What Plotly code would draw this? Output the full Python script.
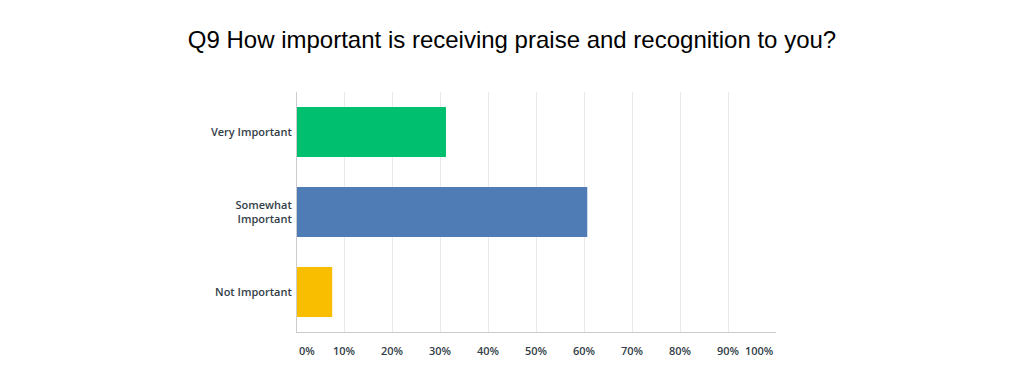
import plotly.graph_objects as go

categories = ["Very Important", "Somewhat<br>Important", "Not Important"]
values = [31.1, 60.6, 7.35]
colors = ["#00bf6f", "#507cb6", "#f9be00"]
tick_values = [0, 10, 20, 30, 40, 50, 60, 70, 80, 90, 100]
tick_labels = ["0%", "10%", "20%", "30%", "40%", "50%", "60%", "70%", "80%", "90%", "100%"]

label_font = dict(family="Open Sans, sans-serif", size=11, color="#333e48", weight=600)

fig = go.Figure(go.Bar(
    y=categories, x=values, orientation="h",
    marker=dict(color=colors, line=dict(width=0)),
    hoverinfo="skip",
))

annotations = []
for v, t in zip(tick_values, tick_labels):
    anchor = "left" if v == tick_values[0] else ("right" if v == tick_values[-1] else "center")
    annotations.append(dict(x=v, y=0, xref="x", yref="paper", text=t, showarrow=False,
                            xanchor=anchor, yanchor="middle", yshift=-18, font=label_font))

fig.update_layout(
    width=1024, height=385,
    margin=dict(l=297, r=248, t=92, b=53),
    paper_bgcolor="white", plot_bgcolor="white",
    title=dict(text="Q9 How important is receiving praise and recognition to you?",
               x=0.5, xanchor="center", xref="container", y=1 - 40 / 385, yref="container", yanchor="middle",
               font=dict(family="Liberation Sans, Arial, sans-serif", size=24, color="#000000")),
    bargap=0.375,
    showlegend=False,
    annotations=annotations,
    xaxis=dict(range=[0, 100], tickvals=tick_values, showticklabels=False,
               showgrid=True, gridcolor="#e9e9e9", gridwidth=1, zeroline=False,
               showline=True, linecolor="#cccccc", linewidth=1, ticks="", fixedrange=True),
    yaxis=dict(autorange="reversed", showline=True, linecolor="#cccccc", linewidth=1,
               showgrid=False, ticks="", tickfont=label_font, ticklabelstandoff=2, fixedrange=True),
)

fig.write_html("out.html")
